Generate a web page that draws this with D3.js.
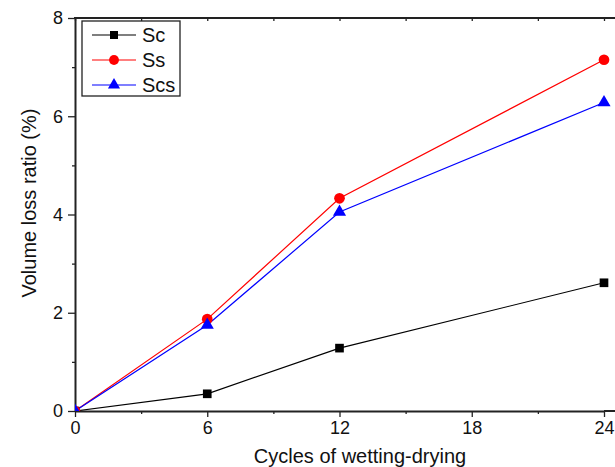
<!DOCTYPE html>
<html>
<head>
<meta charset="utf-8">
<script src="https://cdn.jsdelivr.net/npm/d3@7"></script>
<style>
  body { margin: 0; background: #fff; }
  svg { display: block; font-family: "Liberation Sans", Arial, sans-serif; }
</style>
</head>
<body>
<svg width="615" height="467"></svg>
<script>
// data
var cycles = [0, 6, 12, 24];
var sc  = [0, 0.35, 1.28, 2.61];
var ss  = [0, 1.87, 4.33, 7.15];
var scs = [0, 1.75, 4.05, 6.28];
var names = ["Sc", "Ss", "Scs"];
var xTicks = [0, 6, 12, 18, 24];
var yTicks = [0, 2, 4, 6, 8];

var svg = d3.select("svg"),
    pl = 75, pr = 604, pt = 18, pb = 411;

var x = d3.scaleLinear().domain([0, 24]).range([pl, pr]);
var y = d3.scaleLinear().domain([0, 8]).range([pb, pt]);

var series = [
  { name: names[0], values: sc,  color: "#000000", shape: d3.symbolSquare,   size: 75 },
  { name: names[1], values: ss,  color: "#ff0000", shape: d3.symbolCircle,   size: 90 },
  { name: names[2], values: scs, color: "#0000ff", shape: d3.symbolTriangle, size: 75 }
];

// clip so points sitting on the axes get cut like in the original
svg.append("clipPath").attr("id", "plot")
   .append("rect").attr("x", pl).attr("y", pt)
   .attr("width", 615 - pl).attr("height", pb - pt);

// minor ticks
var minorX = d3.range(3, 25, 6), minorY = d3.range(1, 8, 2);

// bottom axis
svg.append("g").attr("transform", "translate(0," + pb + ")")
  .call(d3.axisBottom(x).tickValues(xTicks).tickSize(6).tickPadding(4).tickSizeOuter(0));
svg.append("g").attr("transform", "translate(0," + pb + ")")
  .call(d3.axisBottom(x).tickValues(minorX).tickSize(3).tickFormat("").tickSizeOuter(0))
  .select(".domain").remove();

// left axis
svg.append("g").attr("transform", "translate(" + pl + ",0)")
  .call(d3.axisLeft(y).tickValues(yTicks).tickSize(7).tickPadding(5).tickSizeOuter(0));
svg.append("g").attr("transform", "translate(" + pl + ",0)")
  .call(d3.axisLeft(y).tickValues(minorY).tickSize(3).tickFormat("").tickSizeOuter(0))
  .select(".domain").remove();

// top frame with inward ticks
var gt = svg.append("g").attr("transform", "translate(0," + pt + ")")
  .call(d3.axisBottom(x).tickValues(xTicks.concat(minorX)).tickSize(3).tickFormat("").tickSizeOuter(0));
gt.select(".domain").remove();

svg.selectAll(".domain").attr("stroke-width", 2).attr("stroke", "#222");
svg.selectAll(".tick line").attr("stroke-width", 1.3).attr("stroke", "#222");
svg.selectAll(".tick text").attr("font-size", 18).attr("fill", "#111")
   .attr("font-family", "Liberation Sans, Arial, sans-serif");

// top line and right extension of the bottom line
svg.append("line").attr("x1", pl - 1).attr("x2", 615).attr("y1", pt).attr("y2", pt)
   .attr("stroke", "#222").attr("stroke-width", 2);
svg.append("line").attr("x1", pr).attr("x2", 615).attr("y1", pb).attr("y2", pb)
   .attr("stroke", "#222").attr("stroke-width", 2);

// series
var line = d3.line().x(function(d) { return x(d[0]); }).y(function(d) { return y(d[1]); });
var plot = svg.append("g").attr("clip-path", "url(#plot)");

series.forEach(function(s) {
  var pts = cycles.map(function(c, i) { return [c, s.values[i]]; });
  plot.append("path").datum(pts).attr("d", line)
      .attr("fill", "none").attr("stroke", s.color).attr("stroke-width", 1.2);
});
series.forEach(function(s) {
  var pts = cycles.map(function(c, i) { return [c, s.values[i]]; });
  plot.selectAll(null).data(pts).enter().append("path")
      .attr("transform", function(d) { return "translate(" + x(d[0]) + "," + y(d[1]) + ")"; })
      .attr("d", d3.symbol().type(s.shape).size(s.size))
      .attr("fill", s.color);
});

// axis titles
svg.append("text").attr("x", 360).attr("y", 463).attr("text-anchor", "middle")
   .attr("font-size", 20).attr("fill", "#111").text("Cycles of wetting-drying");
svg.append("text").attr("transform", "translate(36,203) rotate(-90)")
   .attr("text-anchor", "middle").attr("font-size", 20).attr("fill", "#111")
   .text("Volume loss ratio (%)");

// legend
var lg = svg.append("g");
lg.append("rect").attr("x", 82).attr("y", 21).attr("width", 98).attr("height", 75)
  .attr("fill", "#fff").attr("stroke", "#222").attr("stroke-width", 1.3);
series.forEach(function(s, i) {
  var ly = 35 + i * 25;
  lg.append("line").attr("x1", 92).attr("x2", 136).attr("y1", ly).attr("y2", ly)
    .attr("stroke", s.color).attr("stroke-width", 1.2);
  lg.append("path").attr("transform", "translate(114," + ly + ")")
    .attr("d", d3.symbol().type(s.shape).size(s.size * 0.85)).attr("fill", s.color);
  lg.append("text").attr("x", 142).attr("y", ly + 7).attr("font-size", 20)
    .attr("fill", "#111").text(s.name);
});
</script>
</body>
</html>
